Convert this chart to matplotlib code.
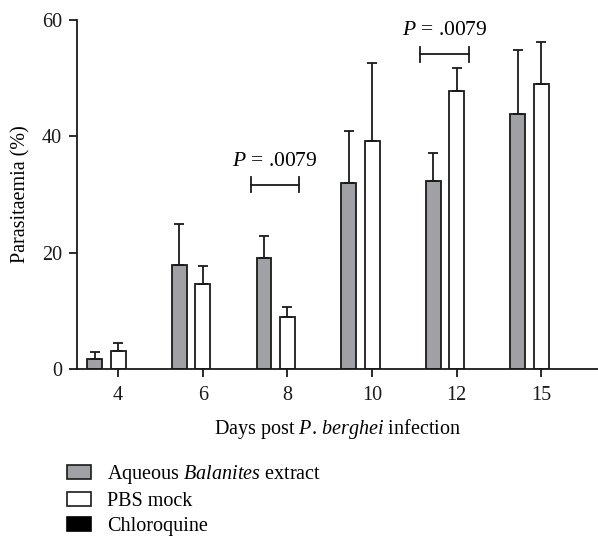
import matplotlib
matplotlib.use("Agg")
import matplotlib.pyplot as plt
from matplotlib.patches import Patch
import numpy as np

plt.rcParams['font.family'] = ['Liberation Serif', 'DejaVu Serif']
plt.rcParams['mathtext.fontset'] = 'custom'
plt.rcParams['mathtext.it'] = 'Liberation Serif:italic'
plt.rcParams['mathtext.rm'] = 'Liberation Serif'

days = ['4', '6', '8', '10', '12', '15']
balanites = [1.8, 17.9, 19.0, 31.9, 32.4, 43.9]
balanites_err = [1.2, 7.1, 3.9, 9.0, 4.7, 11.0]
pbs = [3.1, 14.6, 9.0, 39.2, 47.8, 49.0]
pbs_err = [1.4, 3.1, 1.6, 13.5, 3.9, 7.3]
chloroquine = [0, 0, 0, 0, 0, 0]
sig_groups = [2, 4]
sig_heights = [31.7, 54.1]
sig_label = '$P$ = .0079'

fig = plt.figure(figsize=(5.98, 5.36), dpi=100)
ax = fig.add_axes([0.129, 0.3116, 0.871, 0.651])

x = np.arange(len(days))
step = 0.277
w = 0.177
gray = '#a0a1a5'
ink = '#1a1a1a'
ekw = dict(elinewidth=1.3, capthick=1.3, ecolor=ink)
ax.bar(x - step, balanites, w, color=gray, edgecolor=ink, linewidth=1.3,
       yerr=[np.zeros(len(x)), balanites_err], capsize=3.5, error_kw=ekw, zorder=2)
ax.bar(x, pbs, w, color='white', edgecolor=ink, linewidth=1.3,
       yerr=[np.zeros(len(x)), pbs_err], capsize=3.5, error_kw=ekw, zorder=2)
ax.bar(x + step, chloroquine, w, color='black', linewidth=0, zorder=2)

for g, h in zip(sig_groups, sig_heights):
    x0, x1 = g - 0.43, g + 0.14
    ax.plot([x0, x1], [h, h], color=ink, lw=1.3, clip_on=False)
    ax.plot([x0, x0], [h - 1.25, h + 1.25], color=ink, lw=1.3, clip_on=False)
    ax.plot([x1, x1], [h - 1.25, h + 1.25], color=ink, lw=1.3, clip_on=False)
    ax.text((x0 + x1) / 2, h + 2.4, sig_label, ha='center', va='bottom', fontsize=15.5)

ax.set_xlim(-0.485, 5.67)
ax.set_ylim(0, 60)
ax.set_xticks(x)
ax.set_xticklabels(days)
ax.set_yticks([0, 20, 40, 60])
for s in ['top', 'right']:
    ax.spines[s].set_visible(False)
for s in ['left', 'bottom']:
    ax.spines[s].set_linewidth(1.3)
    ax.spines[s].set_color(ink)
ax.tick_params(direction='out', length=6, width=1.3, labelsize=14.5, colors=ink)
ax.tick_params(axis='x', pad=6)
ax.tick_params(axis='y', pad=5)
ax.set_xlabel('Days post $P$. $berghei$ infection', fontsize=14.5, labelpad=9)
ax.set_ylabel('Parasitaemia (%)', fontsize=14.5, labelpad=8)

handles = [Patch(facecolor=gray, edgecolor=ink, linewidth=1.2),
           Patch(facecolor='white', edgecolor=ink, linewidth=1.2),
           Patch(facecolor='black', edgecolor='black', linewidth=1.2)]
labels = ['Aqueous $Balanites$ extract', 'PBS mock', 'Chloroquine']
fig.legend(handles, labels, loc='upper left', bbox_to_anchor=(0.112, 0.136),
           frameon=False, fontsize=14.5, handlelength=1.2, handleheight=0.7,
           handletextpad=0.8, labelspacing=0.3, borderpad=0, borderaxespad=0)

fig.savefig('out.png', dpi=100)
